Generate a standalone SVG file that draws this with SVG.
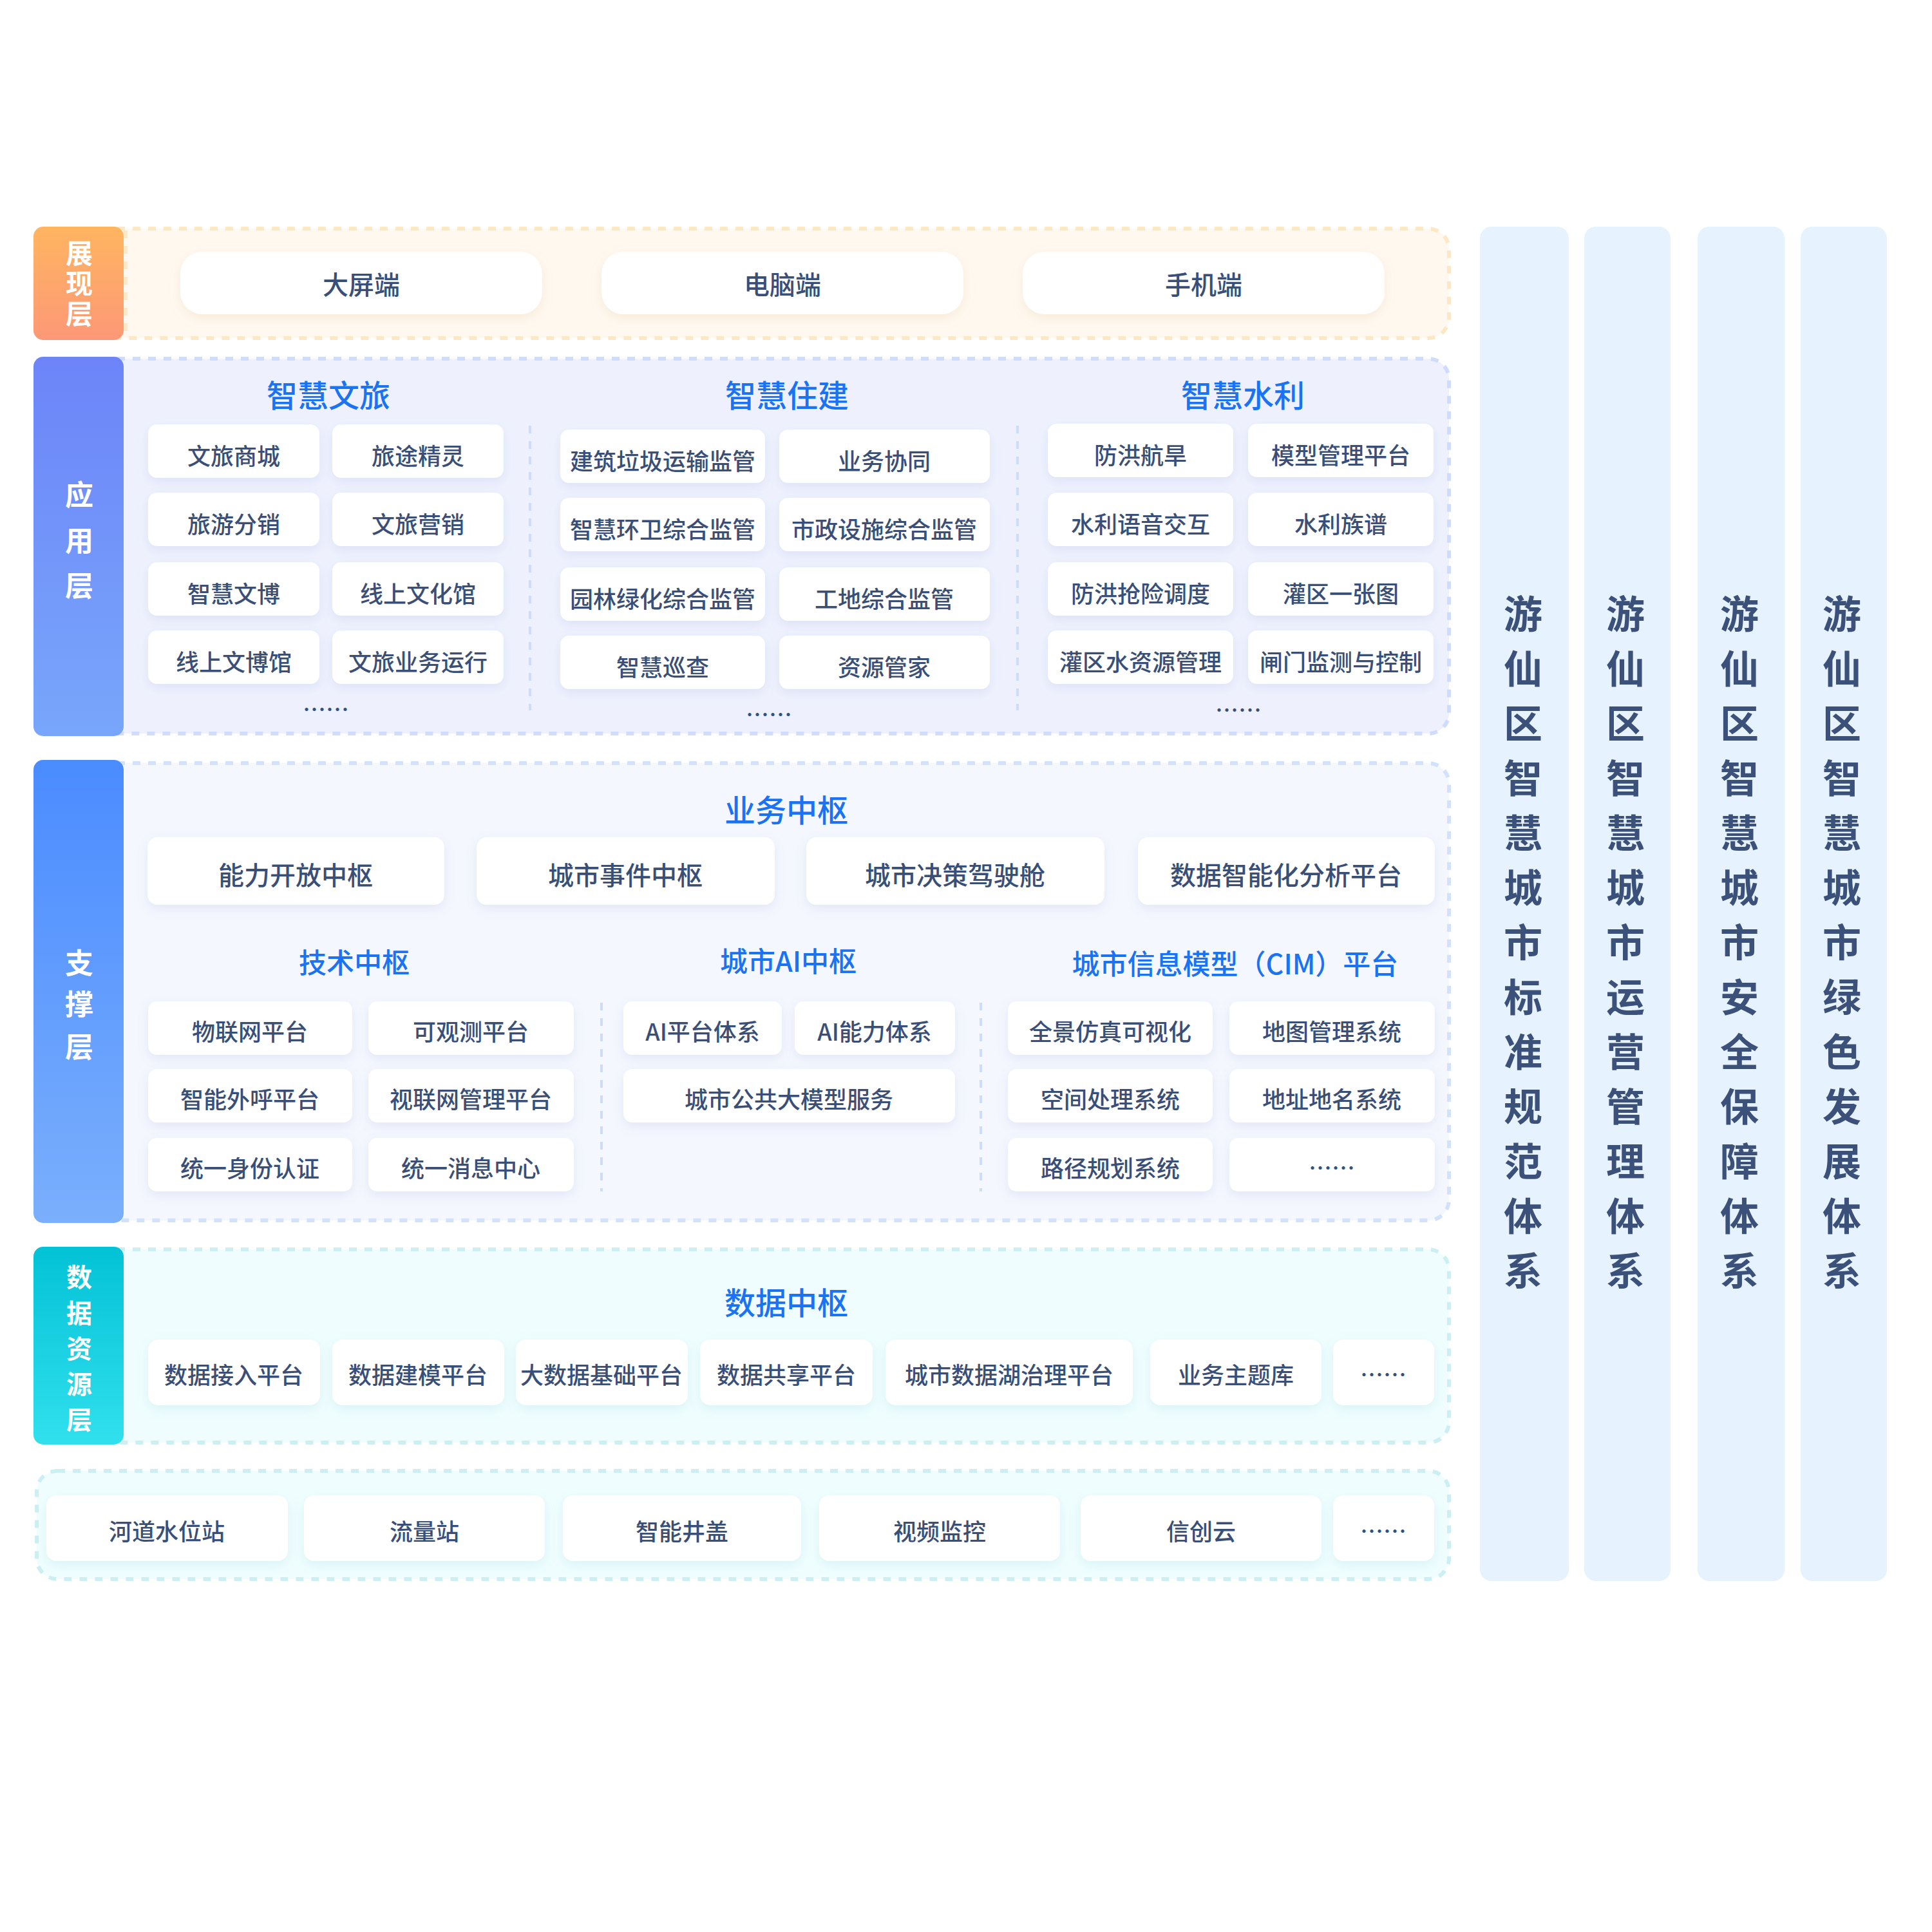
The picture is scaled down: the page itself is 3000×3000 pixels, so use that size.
<svg xmlns="http://www.w3.org/2000/svg" width="3000" height="3000" viewBox="0 0 3000 3000">
<defs>
<linearGradient id="gOrange" x1="0" y1="0" x2="0" y2="1"><stop offset="0" stop-color="#ffb560"/><stop offset="1" stop-color="#fc9877"/></linearGradient>
<linearGradient id="gViolet" x1="0" y1="0" x2="0" y2="1"><stop offset="0" stop-color="#6c84f8"/><stop offset="1" stop-color="#78a6fb"/></linearGradient>
<linearGradient id="gBlue" x1="0" y1="0" x2="0" y2="1"><stop offset="0" stop-color="#4a8bff"/><stop offset="1" stop-color="#7aaffc"/></linearGradient>
<linearGradient id="gCyan" x1="0" y1="0" x2="0" y2="1"><stop offset="0" stop-color="#03c2d6"/><stop offset="1" stop-color="#31e0ed"/></linearGradient>
<filter id="sh" x="-20%" y="-30%" width="140%" height="170%"><feDropShadow dx="0" dy="6" stdDeviation="8" flood-color="#7f93c9" flood-opacity="0.16"/></filter>
<filter id="shw" x="-20%" y="-30%" width="140%" height="170%"><feDropShadow dx="0" dy="6" stdDeviation="8" flood-color="#d9b98a" flood-opacity="0.2"/></filter>
<filter id="shc" x="-20%" y="-30%" width="140%" height="170%"><feDropShadow dx="0" dy="6" stdDeviation="8" flood-color="#7cc7d3" flood-opacity="0.18"/></filter>
</defs>
<style>
.cell{fill:#ffffff;filter:url(#sh)}
.cellw{fill:#ffffff;filter:url(#shw)}
.cellc{fill:#ffffff;filter:url(#shc)}
.t{font-family:"Noto Sans CJK SC","Noto Sans",sans-serif;font-size:36px;font-weight:500;fill:#3a4f77;text-anchor:middle;dominant-baseline:central}
.tb{font-family:"Noto Sans CJK SC","Noto Sans",sans-serif;font-size:40px;font-weight:500;fill:#3a4f77;text-anchor:middle;dominant-baseline:central}
.title{font-family:"Noto Sans CJK SC","Noto Sans",sans-serif;font-size:48px;font-weight:500;fill:#1a73f3;text-anchor:middle;dominant-baseline:central}
.title2{font-family:"Noto Sans CJK SC","Noto Sans",sans-serif;font-size:43px;font-weight:500;fill:#1a73f3;text-anchor:middle;dominant-baseline:central}
.lbl{font-family:"Noto Sans CJK SC","Noto Sans",sans-serif;font-size:44px;font-weight:700;fill:#ffffff;text-anchor:middle;dominant-baseline:central}
.lbls{font-family:"Noto Sans CJK SC","Noto Sans",sans-serif;font-size:40px;font-weight:700;fill:#ffffff;text-anchor:middle;dominant-baseline:central}
.lblv{font-family:"Noto Sans CJK SC","Noto Sans",sans-serif;font-size:42px;font-weight:700;fill:#ffffff;text-anchor:middle;writing-mode:vertical-rl;letter-spacing:5px}
.vt{font-family:"Noto Sans CJK SC","Noto Sans",sans-serif;font-size:60px;font-weight:700;fill:#3c5179;text-anchor:middle;dominant-baseline:central}
.div{stroke:#cddcfa;stroke-width:4;stroke-dasharray:12 12;fill:none}
.col{fill:#e6f2fe}
</style>
<rect width="3000" height="3000" fill="#ffffff"/>

<!-- containers -->
<g id="containers">
<rect x="150" y="355" width="2100" height="170" rx="32" fill="#fff8ef" stroke="#fde8c6" stroke-width="6" stroke-dasharray="12 12"/>
<line x1="195" y1="358" x2="195" y2="522" stroke="#fde8c6" stroke-width="6" stroke-dasharray="12 12"/>
<rect x="150" y="557" width="2100" height="582" rx="32" fill="#eef1fd" stroke="#cfdcfb" stroke-width="6" stroke-dasharray="12 12"/>
<rect x="150" y="1185" width="2100" height="710" rx="32" fill="#f4f7fe" stroke="#d2e1fc" stroke-width="6" stroke-dasharray="12 12"/>
<rect x="150" y="1940" width="2100" height="300" rx="32" fill="#effdfe" stroke="#cbeff3" stroke-width="6" stroke-dasharray="12 12"/>
<rect x="57" y="2284" width="2193" height="168" rx="32" fill="#effdfe" stroke="#cbeff3" stroke-width="6" stroke-dasharray="12 12"/>
</g>

<!-- layer labels -->
<g id="label-presentation">
<rect x="52" y="352" width="140" height="176" rx="15" fill="url(#gOrange)"/>
<text class="lblv" x="123" y="443">展现层</text>
</g>
<g id="label-application">
<rect x="52" y="554" width="140" height="589" rx="15" fill="url(#gViolet)"/>
<text class="lbl"><tspan x="123" y="766">应</tspan><tspan x="123" y="837">用</tspan><tspan x="123" y="907">层</tspan></text>
</g>
<g id="label-support">
<rect x="52" y="1180" width="140" height="719" rx="15" fill="url(#gBlue)"/>
<text class="lbl"><tspan x="123" y="1493">支</tspan><tspan x="123" y="1557">撑</tspan><tspan x="123" y="1623">层</tspan></text>
</g>
<g id="label-data">
<rect x="52" y="1936" width="140" height="307" rx="15" fill="url(#gCyan)"/>
<text class="lbls"><tspan x="123" y="1981">数</tspan><tspan x="123" y="2037">据</tspan><tspan x="123" y="2092">资</tspan><tspan x="123" y="2147">源</tspan><tspan x="123" y="2202">层</tspan></text>
</g>

<!-- presentation layer -->
<g id="node-bigscreen"><rect class="cellw" x="280" y="391" width="562" height="97" rx="34"/><text class="tb" x="561" y="440">大屏端</text></g>
<g id="node-pc"><rect class="cellw" x="934" y="391" width="562" height="97" rx="34"/><text class="tb" x="1215" y="440">电脑端</text></g>
<g id="node-mobile"><rect class="cellw" x="1588" y="391" width="562" height="97" rx="34"/><text class="tb" x="1869" y="440">手机端</text></g>

<!-- application layer titles -->
<g id="title-wenlv"><text class="title" x="510" y="611">智慧文旅</text></g>
<g id="title-zhujian"><text class="title" x="1222" y="611">智慧住建</text></g>
<g id="title-shuili"><text class="title" x="1930" y="611">智慧水利</text></g>

<!-- 文旅 -->
<g id="wl-1"><rect class="cell" x="230" y="659" width="266" height="83" rx="14"/><text class="t" x="363" y="706">文旅商城</text></g>
<g id="wl-2"><rect class="cell" x="516" y="659" width="266" height="83" rx="14"/><text class="t" x="649" y="706">旅途精灵</text></g>
<g id="wl-3"><rect class="cell" x="230" y="765" width="266" height="83" rx="14"/><text class="t" x="363" y="812">旅游分销</text></g>
<g id="wl-4"><rect class="cell" x="516" y="765" width="266" height="83" rx="14"/><text class="t" x="649" y="812">文旅营销</text></g>
<g id="wl-5"><rect class="cell" x="230" y="873" width="266" height="83" rx="14"/><text class="t" x="363" y="920">智慧文博</text></g>
<g id="wl-6"><rect class="cell" x="516" y="873" width="266" height="83" rx="14"/><text class="t" x="649" y="920">线上文化馆</text></g>
<g id="wl-7"><rect class="cell" x="230" y="979" width="266" height="83" rx="14"/><text class="t" x="363" y="1026">线上文博馆</text></g>
<g id="wl-8"><rect class="cell" x="516" y="979" width="266" height="83" rx="14"/><text class="t" x="649" y="1026">文旅业务运行</text></g>
<g id="wl-more"><text class="t" x="506" y="1100">……</text></g>

<!-- 住建 -->
<g id="zj-1"><rect class="cell" x="870" y="667" width="318" height="83" rx="14"/><text class="t" x="1029" y="714">建筑垃圾运输监管</text></g>
<g id="zj-2"><rect class="cell" x="1210" y="667" width="327" height="83" rx="14"/><text class="t" x="1373" y="714">业务协同</text></g>
<g id="zj-3"><rect class="cell" x="870" y="773" width="318" height="83" rx="14"/><text class="t" x="1029" y="820">智慧环卫综合监管</text></g>
<g id="zj-4"><rect class="cell" x="1210" y="773" width="327" height="83" rx="14"/><text class="t" x="1373" y="820">市政设施综合监管</text></g>
<g id="zj-5"><rect class="cell" x="870" y="881" width="318" height="83" rx="14"/><text class="t" x="1029" y="928">园林绿化综合监管</text></g>
<g id="zj-6"><rect class="cell" x="1210" y="881" width="327" height="83" rx="14"/><text class="t" x="1373" y="928">工地综合监管</text></g>
<g id="zj-7"><rect class="cell" x="870" y="987" width="318" height="83" rx="14"/><text class="t" x="1029" y="1034">智慧巡查</text></g>
<g id="zj-8"><rect class="cell" x="1210" y="987" width="327" height="83" rx="14"/><text class="t" x="1373" y="1034">资源管家</text></g>
<g id="zj-more"><text class="t" x="1194" y="1108">……</text></g>

<!-- 水利 -->
<g id="sl-1"><rect class="cell" x="1627" y="658" width="288" height="83" rx="14"/><text class="t" x="1771" y="705">防洪航旱</text></g>
<g id="sl-2"><rect class="cell" x="1938" y="658" width="288" height="83" rx="14"/><text class="t" x="2082" y="705">模型管理平台</text></g>
<g id="sl-3"><rect class="cell" x="1627" y="765" width="288" height="83" rx="14"/><text class="t" x="1771" y="812">水利语音交互</text></g>
<g id="sl-4"><rect class="cell" x="1938" y="765" width="288" height="83" rx="14"/><text class="t" x="2082" y="812">水利族谱</text></g>
<g id="sl-5"><rect class="cell" x="1627" y="873" width="288" height="83" rx="14"/><text class="t" x="1771" y="920">防洪抢险调度</text></g>
<g id="sl-6"><rect class="cell" x="1938" y="873" width="288" height="83" rx="14"/><text class="t" x="2082" y="920">灌区一张图</text></g>
<g id="sl-7"><rect class="cell" x="1627" y="979" width="288" height="83" rx="14"/><text class="t" x="1771" y="1026">灌区水资源管理</text></g>
<g id="sl-8"><rect class="cell" x="1938" y="979" width="288" height="83" rx="14"/><text class="t" x="2082" y="1026">闸门监测与控制</text></g>
<g id="sl-more"><text class="t" x="1923" y="1101">……</text></g>

<!-- support layer -->
<g id="title-business"><text class="title" x="1221" y="1255">业务中枢</text></g>
<g id="bz-1"><rect class="cell" x="229" y="1300" width="461" height="105" rx="16"/><text class="tb" x="459" y="1357">能力开放中枢</text></g>
<g id="bz-2"><rect class="cell" x="740" y="1300" width="463" height="105" rx="16"/><text class="tb" x="971" y="1357">城市事件中枢</text></g>
<g id="bz-3"><rect class="cell" x="1252" y="1300" width="463" height="105" rx="16"/><text class="tb" x="1483" y="1357">城市决策驾驶舱</text></g>
<g id="bz-4"><rect class="cell" x="1767" y="1300" width="461" height="105" rx="16"/><text class="tb" x="1997" y="1357">数据智能化分析平台</text></g>

<g id="title-tech"><text class="title2" x="550" y="1492">技术中枢</text></g>
<g id="title-ai"><text class="title2" x="1224" y="1490">城市AI中枢</text></g>
<g id="title-cim"><text class="title2" x="1918" y="1494">城市信息模型（CIM）平台</text></g>

<g id="js-1"><rect class="cell" x="230" y="1555" width="317" height="83" rx="14"/><text class="t" x="388" y="1600">物联网平台</text></g>
<g id="js-2"><rect class="cell" x="572" y="1555" width="319" height="83" rx="14"/><text class="t" x="731" y="1600">可观测平台</text></g>
<g id="js-3"><rect class="cell" x="230" y="1660" width="317" height="83" rx="14"/><text class="t" x="388" y="1705">智能外呼平台</text></g>
<g id="js-4"><rect class="cell" x="572" y="1660" width="319" height="83" rx="14"/><text class="t" x="731" y="1705">视联网管理平台</text></g>
<g id="js-5"><rect class="cell" x="230" y="1767" width="317" height="83" rx="14"/><text class="t" x="388" y="1812">统一身份认证</text></g>
<g id="js-6"><rect class="cell" x="572" y="1767" width="319" height="83" rx="14"/><text class="t" x="731" y="1812">统一消息中心</text></g>

<g id="ai-1"><rect class="cell" x="968" y="1555" width="246" height="83" rx="14"/><text class="t" x="1091" y="1600">AI平台体系</text></g>
<g id="ai-2"><rect class="cell" x="1234" y="1555" width="249" height="83" rx="14"/><text class="t" x="1358" y="1600">AI能力体系</text></g>
<g id="ai-3"><rect class="cell" x="968" y="1660" width="515" height="83" rx="14"/><text class="t" x="1225" y="1705">城市公共大模型服务</text></g>

<g id="cim-1"><rect class="cell" x="1565" y="1555" width="318" height="83" rx="14"/><text class="t" x="1724" y="1600">全景仿真可视化</text></g>
<g id="cim-2"><rect class="cell" x="1909" y="1555" width="319" height="83" rx="14"/><text class="t" x="2068" y="1600">地图管理系统</text></g>
<g id="cim-3"><rect class="cell" x="1565" y="1660" width="318" height="83" rx="14"/><text class="t" x="1724" y="1705">空间处理系统</text></g>
<g id="cim-4"><rect class="cell" x="1909" y="1660" width="319" height="83" rx="14"/><text class="t" x="2068" y="1705">地址地名系统</text></g>
<g id="cim-5"><rect class="cell" x="1565" y="1767" width="318" height="83" rx="14"/><text class="t" x="1724" y="1812">路径规划系统</text></g>
<g id="cim-6"><rect class="cell" x="1909" y="1767" width="319" height="83" rx="14"/><text class="t" x="2068" y="1812">……</text></g>

<!-- data layer -->
<g id="title-data"><text class="title" x="1221" y="2020">数据中枢</text></g>
<g id="dz-1"><rect class="cellc" x="230" y="2080" width="267" height="102" rx="16"/><text class="t" x="363" y="2133">数据接入平台</text></g>
<g id="dz-2"><rect class="cellc" x="516" y="2080" width="267" height="102" rx="16"/><text class="t" x="649" y="2133">数据建模平台</text></g>
<g id="dz-3"><rect class="cellc" x="801" y="2080" width="267" height="102" rx="16"/><text class="t" x="934" y="2133">大数据基础平台</text></g>
<g id="dz-4"><rect class="cellc" x="1087" y="2080" width="268" height="102" rx="16"/><text class="t" x="1221" y="2133">数据共享平台</text></g>
<g id="dz-5"><rect class="cellc" x="1375" y="2080" width="384" height="102" rx="16"/><text class="t" x="1567" y="2133">城市数据湖治理平台</text></g>
<g id="dz-6"><rect class="cellc" x="1786" y="2080" width="266" height="102" rx="16"/><text class="t" x="1919" y="2133">业务主题库</text></g>
<g id="dz-7"><rect class="cellc" x="2070" y="2080" width="157" height="102" rx="16"/><text class="t" x="2148" y="2133">……</text></g>

<!-- perception layer -->
<g id="gz-1"><rect class="cellc" x="72" y="2322" width="375" height="102" rx="16"/><text class="t" x="259" y="2376">河道水位站</text></g>
<g id="gz-2"><rect class="cellc" x="472" y="2322" width="374" height="102" rx="16"/><text class="t" x="659" y="2376">流量站</text></g>
<g id="gz-3"><rect class="cellc" x="874" y="2322" width="370" height="102" rx="16"/><text class="t" x="1059" y="2376">智能井盖</text></g>
<g id="gz-4"><rect class="cellc" x="1272" y="2322" width="374" height="102" rx="16"/><text class="t" x="1459" y="2376">视频监控</text></g>
<g id="gz-5"><rect class="cellc" x="1678" y="2322" width="374" height="102" rx="16"/><text class="t" x="1865" y="2376">信创云</text></g>
<g id="gz-6"><rect class="cellc" x="2070" y="2322" width="157" height="102" rx="16"/><text class="t" x="2148" y="2376">……</text></g>

<!-- side systems -->
<g id="sys-standard">
<rect class="col" x="2298" y="352" width="138" height="2103" rx="18"/>
<text class="vt"><tspan x="2365" y="949">游</tspan><tspan x="2365" y="1034">仙</tspan><tspan x="2365" y="1119">区</tspan><tspan x="2365" y="1204">智</tspan><tspan x="2365" y="1289">慧</tspan><tspan x="2365" y="1374">城</tspan><tspan x="2365" y="1459">市</tspan><tspan x="2365" y="1544">标</tspan><tspan x="2365" y="1629">准</tspan><tspan x="2365" y="1714">规</tspan><tspan x="2365" y="1799">范</tspan><tspan x="2365" y="1884">体</tspan><tspan x="2365" y="1969">系</tspan></text>
</g>
<g id="sys-operation">
<rect class="col" x="2460" y="352" width="134" height="2103" rx="18"/>
<text class="vt"><tspan x="2524" y="949">游</tspan><tspan x="2524" y="1034">仙</tspan><tspan x="2524" y="1119">区</tspan><tspan x="2524" y="1204">智</tspan><tspan x="2524" y="1289">慧</tspan><tspan x="2524" y="1374">城</tspan><tspan x="2524" y="1459">市</tspan><tspan x="2524" y="1544">运</tspan><tspan x="2524" y="1629">营</tspan><tspan x="2524" y="1714">管</tspan><tspan x="2524" y="1799">理</tspan><tspan x="2524" y="1884">体</tspan><tspan x="2524" y="1969">系</tspan></text>
</g>
<g id="sys-security">
<rect class="col" x="2636" y="352" width="135" height="2103" rx="18"/>
<text class="vt"><tspan x="2701" y="949">游</tspan><tspan x="2701" y="1034">仙</tspan><tspan x="2701" y="1119">区</tspan><tspan x="2701" y="1204">智</tspan><tspan x="2701" y="1289">慧</tspan><tspan x="2701" y="1374">城</tspan><tspan x="2701" y="1459">市</tspan><tspan x="2701" y="1544">安</tspan><tspan x="2701" y="1629">全</tspan><tspan x="2701" y="1714">保</tspan><tspan x="2701" y="1799">障</tspan><tspan x="2701" y="1884">体</tspan><tspan x="2701" y="1969">系</tspan></text>
</g>
<g id="sys-green">
<rect class="col" x="2796" y="352" width="134" height="2103" rx="18"/>
<text class="vt"><tspan x="2860" y="949">游</tspan><tspan x="2860" y="1034">仙</tspan><tspan x="2860" y="1119">区</tspan><tspan x="2860" y="1204">智</tspan><tspan x="2860" y="1289">慧</tspan><tspan x="2860" y="1374">城</tspan><tspan x="2860" y="1459">市</tspan><tspan x="2860" y="1544">绿</tspan><tspan x="2860" y="1629">色</tspan><tspan x="2860" y="1714">发</tspan><tspan x="2860" y="1799">展</tspan><tspan x="2860" y="1884">体</tspan><tspan x="2860" y="1969">系</tspan></text>
</g>

<!-- dividers -->
<g id="connectors">
<line class="div" x1="823" y1="661" x2="823" y2="1103"/>
<line class="div" x1="1580" y1="661" x2="1580" y2="1103"/>
<line class="div" x1="934" y1="1557" x2="934" y2="1850"/>
<line class="div" x1="1523" y1="1557" x2="1523" y2="1850"/>
</g>
</svg>
